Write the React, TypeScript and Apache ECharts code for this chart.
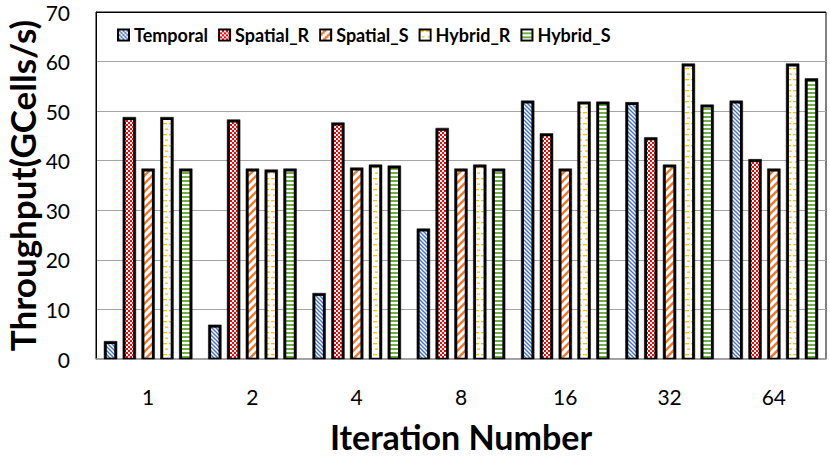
import React, { useEffect, useRef } from "react";
import * as echarts from "echarts";

const categories = ["1", "2", "4", "8", "16", "32", "64"];
const seriesNames = ["Temporal", "Spatial_R", "Spatial_S", "Hybrid_R", "Hybrid_S"];
const temporal = [3.3, 6.6, 13.0, 26.0, 51.8, 51.5, 51.8];
const spatialR = [48.5, 48.0, 47.4, 46.3, 45.2, 44.4, 40.0];
const spatialS = [38.1, 38.1, 38.3, 38.1, 38.1, 38.9, 38.1];
const hybridR = [48.5, 37.9, 38.9, 38.9, 51.6, 59.3, 59.3];
const hybridS = [38.1, 38.1, 38.7, 38.1, 51.6, 51.0, 56.3];
const yTicks = [0, 10, 20, 30, 40, 50, 60, 70];

const FONT = "Lato";
const BAR_FRAC = 0.0978; // bar width as share of category band
const STEP_FRAC = 0.1803; // distance between neighbouring bars as share of band
const BORDER = 2.7;

function makeCanvas(w: number, h: number, draw: (c: CanvasRenderingContext2D) => void) {
  const cv = document.createElement("canvas");
  cv.width = w;
  cv.height = h;
  const ctx = cv.getContext("2d")!;
  ctx.fillStyle = "#ffffff";
  ctx.fillRect(0, 0, w, h);
  draw(ctx);
  return cv;
}

function buildPatterns() {
  const temporalP = makeCanvas(4, 4, (c) => {
    c.strokeStyle = "#4472C4";
    c.lineWidth = 1.4;
    c.beginPath();
    c.moveTo(-1, -1); c.lineTo(5, 5);
    c.moveTo(-1, 3); c.lineTo(1, 5);
    c.moveTo(3, -1); c.lineTo(5, 1);
    c.stroke();
  });
  const spatialRP = makeCanvas(4, 4, (c) => {
    c.fillStyle = "#FF0000";
    c.fillRect(0, 0, 4, 4);
    c.fillStyle = "#ffffff";
    c.fillRect(0, 0, 2, 2);
    c.fillRect(2, 2, 2, 2);
  });
  const spatialSP = makeCanvas(8, 8, (c) => {
    c.strokeStyle = "#ED7D31";
    c.lineWidth = 2.6;
    c.beginPath();
    c.moveTo(-1, 9); c.lineTo(9, -1);
    c.moveTo(-1, 1); c.lineTo(1, -1);
    c.moveTo(7, 9); c.lineTo(9, 7);
    c.stroke();
  });
  const hybridRP = makeCanvas(6, 11, (c) => {
    c.fillStyle = "#FFC000";
    c.fillRect(1, 2, 4, 1.3);
    c.fillRect(3, 7.5, 3, 1.3);
  });
  const hybridSP = makeCanvas(4, 4, (c) => {
    c.fillStyle = "#70AD47";
    c.fillRect(0, 0, 4, 2);
  });
  return [temporalP, spatialRP, spatialSP, hybridRP, hybridSP];
}

function legendIcon(pat: HTMLCanvasElement) {
  const S = 3;
  const cv = document.createElement("canvas");
  cv.width = 13 * S;
  cv.height = 13 * S;
  const ctx = cv.getContext("2d")!;
  ctx.imageSmoothingEnabled = false;
  ctx.fillStyle = "#000";
  ctx.fillRect(0, 0, cv.width, cv.height);
  ctx.scale(S, S);
  const p = ctx.createPattern(pat, "repeat")!;
  ctx.fillStyle = p;
  ctx.fillRect(2, 2, 9, 9);
  return "image://" + cv.toDataURL();
}

export default function App() {
  const ref = useRef<HTMLDivElement>(null);
  useEffect(() => {
    document.body.style.margin = "0";
    const chart = echarts.init(ref.current!, null, { renderer: "svg" });
    const pats = buildPatterns();
    const values = [temporal, spatialR, spatialS, hybridR, hybridS];
    const series = seriesNames.map((name, si) => {
      const fill = { image: pats[si], repeat: "repeat", imageWidth: pats[si].width, imageHeight: pats[si].height };
      return {
        name,
        type: "custom",
        data: values[si].map((v, i) => [i, v]),
        encode: { x: 0, y: 1 },
        itemStyle: { color: "#000" },
        renderItem: (params: any, api: any) => {
          const ci = api.value(0);
          const v = api.value(1);
          const top = api.coord([ci, v]);
          const base = api.coord([ci, 0]);
          const band = api.size([1, 0])[0];
          const w = band * BAR_FRAC;
          const cx = top[0] + (si - 2) * band * STEP_FRAC;
          const h = base[1] - top[1];
          const b = BORDER;
          return {
            type: "group",
            children: [
              {
                type: "rect",
                shape: { x: cx - w / 2 - b / 2, y: top[1] - b / 2, width: w + b, height: h + b / 2 },
                style: { fill: "#000000", stroke: "#000000", lineWidth: 0.5 },
              },
              {
                type: "rect",
                shape: { x: cx - w / 2 + b / 2, y: top[1] + b / 2, width: Math.max(0, w - b), height: Math.max(0, h - b) },
                style: { fill },
              },
            ],
          };
        },
      };
    });
    const splitColors = yTicks.map((t) => (t === 70 ? "#000" : "#A6A6A6"));
    chart.setOption({
      animation: false,
      backgroundColor: "#fff",
      grid: {
        left: 96,
        top: 12,
        right: 4,
        bottom: 98,
        outerBoundsMode: "none",
        containLabel: false,
        show: true,
        borderColor: "#000",
        borderWidth: 1,
        backgroundColor: "transparent",
      },
      legend: {
        data: seriesNames.map((n, i) => ({ name: n, icon: legendIcon(pats[i]) })),
        left: 112,
        top: 21,
        itemWidth: 13,
        itemHeight: 13,
        itemGap: 10,
        textStyle: { fontFamily: FONT, fontWeight: "bold", fontSize: 18, color: "#000", padding: [0, 0, 0, -1] },
      },
      xAxis: {
        type: "category",
        data: categories,
        axisTick: { show: false },
        axisLine: { lineStyle: { color: "#A6A6A6", width: 1.5 } },
        axisLabel: { fontFamily: FONT, fontSize: 21, color: "#000", margin: 27 },
        name: "Iteration Number",
        nameLocation: "middle",
        nameGap: 77,
        nameMoveOverlap: false,
        nameTextStyle: {
          fontFamily: FONT, fontWeight: "bold", fontSize: 34, color: "#000",
          verticalAlign: "middle", lineHeight: 30,
        },
      },
      yAxis: {
        type: "value",
        min: 0,
        max: 70,
        interval: 10,
        axisLine: { show: true, lineStyle: { color: "#000", width: 1 } },
        axisTick: { show: false },
        axisLabel: { fontFamily: FONT, fontSize: 21, color: "#000", margin: 26 },
        splitLine: { show: true, lineStyle: { color: splitColors, width: 1.2 } },
        name: "Throughput(GCells/s)",
        nameLocation: "middle",
        nameGap: 74,
        nameRotate: 90,
        nameMoveOverlap: false,
        nameTextStyle: {
          fontFamily: FONT, fontWeight: "bold", fontSize: 35, color: "#000",
          verticalAlign: "middle", lineHeight: 34,
        },
      },
      series,
    });
    return () => chart.dispose();
  }, []);
  return <div ref={ref} style={{ width: 830, height: 457 }} />;
}
